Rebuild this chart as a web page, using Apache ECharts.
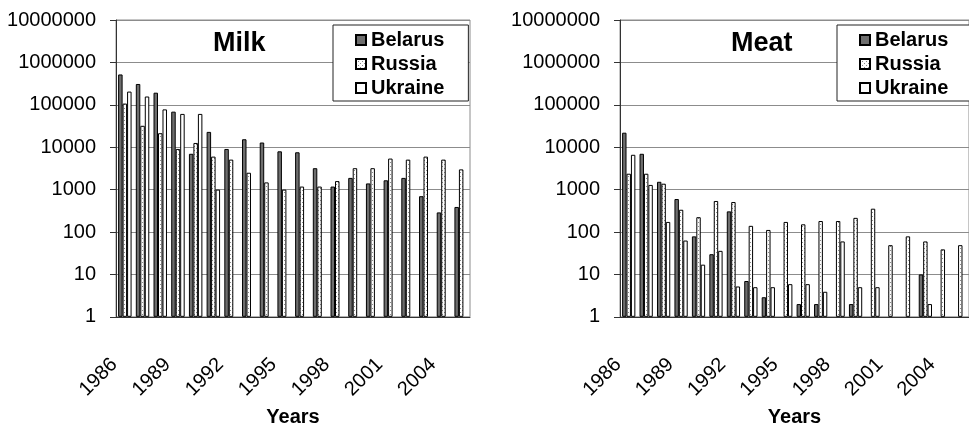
<!DOCTYPE html>
<html>
<head>
<meta charset="utf-8">
<script src="https://cdn.jsdelivr.net/npm/echarts@6/dist/echarts.min.js"></script>
<style>
  html, body { margin: 0; padding: 0; background: #fff; }
  #chart { width: 969px; height: 432px; }
</style>
</head>
<body>
<div id="chart"></div>
<script>
// years on the x axis (labels every 3rd year)
const years = ['1986', '1987', '1988', '1989', '1990', '1991', '1992', '1993', '1994', '1995',
  '1996', '1997', '1998', '1999', '2000', '2001', '2002', '2003', '2004', '2005']

// Milk
const milkBelarus = [520000, 310000, 193000, 69000, 7000, 23000, 9100, 15400, 12900, 8000,
  7600, 3200, 1180, 1890, 1400, 1660, 1890, 700, 290, 390]
const milkRussia = [107000, 32000, 21400, 9100, 12600, 6000, 5100, 2500, 1480, 1000,
  1180, 1180, 1590, 3200, 3200, 5400, 5100, 6000, 5100, 3000]
const milkUkraine = [205000, 157000, 78000, 61000, 61000, 1000, null, null, null, null,
  null, null, null, null, null, null, null, null, null, null]

// Meat
const meatBelarus = [22000, 7000, 1530, 600, 79, 30, 307, 7, 2.9, null,
  2, 2, null, 2, null, null, null, 10, null, null]
const meatRussia = [2370, 2370, 1380, 335, 224, 540, 510, 140, 112, 173,
  152, 182, 182, 216, 355, 49, 79, 60, 39, 49]
const meatUkraine = [6630, 1290, 173, 63, 17, 36, 5.2, 5, 5, 5.9,
  5.9, 3.9, 60, 5, 5, null, null, 2, null, null]

const countries = ['Belarus', 'Russia', 'Ukraine']
const font = "'Liberation Sans', Arial, sans-serif"

// dotted fill for Russia
const dots = document.createElement('canvas')
dots.width = 4
dots.height = 4
const dctx = dots.getContext('2d')
dctx.fillStyle = '#ffffff'
dctx.fillRect(0, 0, 4, 4)
dctx.fillStyle = '#8a8a8a'
dctx.fillRect(0, 0, 1, 1)
dctx.fillRect(2, 2, 1, 1)

const fills = {
  Belarus: '#6e6e6e',
  Russia: { image: dots, repeat: 'repeat' },
  Ukraine: '#ffffff'
}

const grids = [
  { left: 116, top: 20, width: 354, height: 308 },
  { left: 620, top: 20, width: 354, height: 308 }
]

const makeX = (i) => ({
  type: 'category',
  gridIndex: i,
  data: years,
  name: 'Years',
  nameLocation: 'middle',
  nameGap: 90,
  nameTextStyle: { fontFamily: font, fontSize: 20, fontWeight: 'bold', color: '#000' },
  axisLine: { lineStyle: { color: '#333', width: 1 } },
  axisTick: { interval: 0, length: 6, lineStyle: { color: '#333' } },
  axisLabel: {
    interval: 2,
    rotate: 45,
    margin: 34,
    padding: [0, 15, 0, 0],
    fontFamily: font,
    fontSize: 20,
    color: '#000'
  },
  splitLine: { show: false }
})

const makeY = (i) => ({
  type: 'log',
  gridIndex: i,
  logBase: 10,
  min: 1,
  max: 10000000,
  splitNumber: 7,
  axisLine: { show: true, lineStyle: { color: '#333', width: 1 } },
  axisTick: { show: true, length: 6, lineStyle: { color: '#333' } },
  axisLabel: {
    margin: 20,
    fontFamily: font,
    fontSize: 20,
    color: '#000',
    formatter: (v) => String(Math.round(v))
  },
  minorTick: { show: false },
  splitLine: { show: true, lineStyle: { color: '#8c8c8c', width: 1 } }
})

const makeBar = (name, data, i) => ({
  name: name,
  type: 'bar',
  xAxisIndex: i,
  yAxisIndex: i,
  data: data,
  barGap: '0%',
  barCategoryGap: '24%',
  itemStyle: { color: fills[name], borderColor: '#000', borderWidth: 1 },
  emphasis: { disabled: true }
})

const makeLegend = (left) => ({
  orient: 'vertical',
  left: left,
  top: 25,
  data: countries,
  icon: 'rect',
  backgroundColor: '#fff',
  borderColor: '#222',
  borderWidth: 1,
  padding: [5, 24, 3, 22],
  itemGap: 4,
  itemWidth: 10,
  itemHeight: 10,
  selectedMode: false,
  textStyle: { fontFamily: font, fontSize: 20, fontWeight: 'bold', color: '#000', lineHeight: 20 }
})

const chart = echarts.init(document.getElementById('chart'))

const option = {
  animation: false,
  backgroundColor: '#fff',
  title: [
    { text: 'Milk', left: 213, top: 30, padding: 0,
      textStyle: { fontFamily: font, fontSize: 27, fontWeight: 'bold', color: '#000' } },
    { text: 'Meat', left: 731, top: 30, padding: 0,
      textStyle: { fontFamily: font, fontSize: 27, fontWeight: 'bold', color: '#000' } }
  ],
  legend: [makeLegend(333), makeLegend(837)],
  grid: grids.map(g => Object.assign({ show: true, borderColor: '#8c8c8c', borderWidth: 1 }, g)),
  xAxis: [makeX(0), makeX(1)],
  yAxis: [makeY(0), makeY(1)],
  series: [
    makeBar('Belarus', milkBelarus, 0),
    makeBar('Russia', milkRussia, 0),
    makeBar('Ukraine', milkUkraine, 0),
    makeBar('Belarus', meatBelarus, 1),
    makeBar('Russia', meatRussia, 1),
    makeBar('Ukraine', meatUkraine, 1)
  ]
}

chart.setOption(option)

window.addEventListener('resize', () => {
  chart.resize()
})
</script>
</body>
</html>
